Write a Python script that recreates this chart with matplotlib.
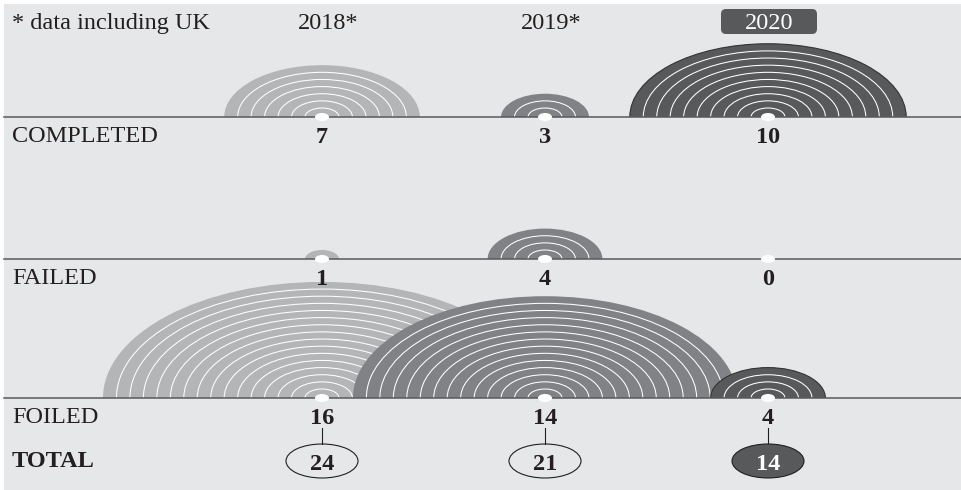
import matplotlib
matplotlib.use("Agg")
import matplotlib.pyplot as plt
from matplotlib.patches import Ellipse, Rectangle, FancyBboxPatch

# data
years = ["2018", "2019", "2020"]
year_notes = ["*", "*", ""]
rows = ["COMPLETED", "FAILED", "FOILED"]
completed = [7, 3, 10]
failed = [1, 4, 0]
foiled = [16, 14, 4]

colors = ["#b4b5b7", "#818285", "#58595b"]
bg = "#e6e7e8"
line_col = "#58595b"

plt.rcParams['font.family'] = ['Liberation Serif', 'DejaVu Serif']
fs = 17.5

fig = plt.figure(figsize=(9.61, 4.90), dpi=100)
fig.patch.set_facecolor("white")
ax = fig.add_axes([0, 0, 1, 1])
ax.set_xlim(0, 961)
ax.set_ylim(490, 0)
ax.axis("off")

# grey panel
ax.add_patch(Rectangle((4, 4), 961, 490, facecolor=bg, edgecolor="none", zorder=0))

col_x = [322, 545, 768]
baselines = [117, 259, 398]
unit = 13.47      # px per event (horizontal radius)
r0 = 3.5
flat = 0.53       # vertical / horizontal radius

def rx_of(n):
    return r0 + unit * n

for row_i, (name, vals) in enumerate(zip(rows, [completed, failed, foiled])):
    base = baselines[row_i]
    clip = Rectangle((0, base - 250), 961, 250, transform=ax.transData)
    for i, n in enumerate(vals):
        z = 2 + i
        if n > 0:
            rx = rx_of(n)
            edge = "#333333" if i == 2 else "none"
            e = Ellipse((col_x[i], base), 2 * rx, 2 * rx * flat, facecolor=colors[i],
                        edgecolor=edge, lw=0.8, zorder=z)
            ax.add_patch(e)
            e.set_clip_path(clip)
            for k in range(1, n):
                r = rx_of(k)
                ring = Ellipse((col_x[i], base), 2 * r, 2 * r * flat, fill=False,
                               edgecolor="white", lw=0.75, zorder=z)
                ax.add_patch(ring)
                ring.set_clip_path(clip)
    ax.plot([4, 961], [base, base], color=line_col, lw=1.1, zorder=8)
    for i, n in enumerate(vals):
        ax.add_patch(Ellipse((col_x[i], base), 14, 8, facecolor="white",
                             edgecolor="none", zorder=9))
        ax.text(col_x[i], base + 26, str(n), ha="center", va="baseline",
                fontsize=fs, fontweight="bold", color="#231f20", zorder=10)
    ax.text(12, base + 25, name, ha="left", va="baseline", fontsize=fs,
            color="#231f20", zorder=10)

# header
ax.text(12, 29, "* data including UK", ha="left", va="baseline", fontsize=fs, color="#231f20")
for i, y in enumerate(years):
    if i == 2:
        ax.add_patch(FancyBboxPatch((col_x[i] - 47, 9), 96, 25,
                                    boxstyle="round,pad=0,rounding_size=5",
                                    facecolor=line_col, edgecolor="none", zorder=5))
        ax.text(col_x[i] + 1, 29, y, ha="center", va="baseline", fontsize=fs,
                color="white", zorder=6)
    else:
        ax.text(col_x[i] + 6, 29, y + year_notes[i], ha="center", va="baseline",
                fontsize=fs, color="#231f20")

# totals
ax.text(12, 467, "TOTAL", ha="left", va="baseline", fontsize=fs,
        fontweight="bold", color="#231f20")
totals = [a + b + c for a, b, c in zip(completed, failed, foiled)]
for i, t in enumerate(totals):
    ax.plot([col_x[i], col_x[i]], [428, 444], color="#231f20", lw=0.8)
    fc = line_col if i == 2 else "none"
    tc = "white" if i == 2 else "#231f20"
    ax.add_patch(Ellipse((col_x[i], 461), 72, 34, facecolor=fc,
                         edgecolor="#231f20", lw=0.8, zorder=5))
    ax.text(col_x[i], 470, str(t), ha="center", va="baseline", fontsize=fs,
            fontweight="bold", color=tc, zorder=6)

fig.savefig("out.png", dpi=100, facecolor=fig.get_facecolor())
